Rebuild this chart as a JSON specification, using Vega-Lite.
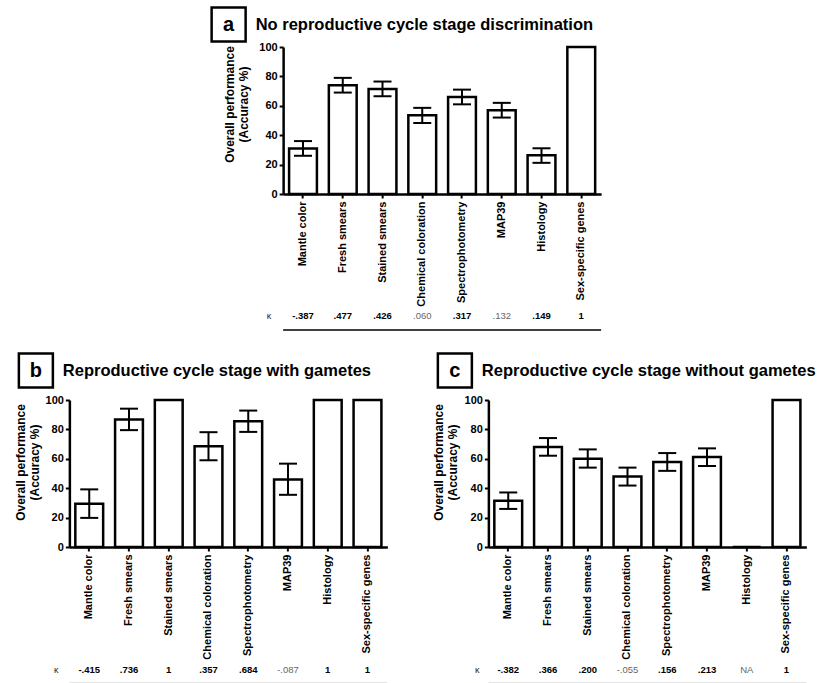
{
  "$schema": "https://vega.github.io/schema/vega-lite/v6.json",
  "padding": {"left": 13, "top": 2, "right": 0, "bottom": 0},
  "background": "white",
  "config": {
    "font": "Liberation Sans",
    "view": {"stroke": null},
    "axis": {"labelFont": "Liberation Sans", "titleFont": "Liberation Sans", "labelColor": "black", "titleColor": "black", "domainColor": "black", "tickColor": "black", "grid": false, "labelOverlap": false, "labelBound": false}
  },
  "datasets": {
    "a": [
      {"method": "Mantle color", "accuracy": 31, "lower": 26, "upper": 36, "kappa": "-.387", "significant": true},
      {"method": "Fresh smears", "accuracy": 74, "lower": 69, "upper": 79, "kappa": ".477", "significant": true},
      {"method": "Stained smears", "accuracy": 71.5, "lower": 66.5, "upper": 76.5, "kappa": ".426", "significant": true},
      {"method": "Chemical coloration", "accuracy": 53.5, "lower": 48.3, "upper": 58.6, "kappa": ".060", "significant": false},
      {"method": "Spectrophotometry", "accuracy": 66, "lower": 61, "upper": 71, "kappa": ".317", "significant": true},
      {"method": "MAP39", "accuracy": 57, "lower": 52, "upper": 62, "kappa": ".132", "significant": false},
      {"method": "Histology", "accuracy": 26.4, "lower": 21.2, "upper": 31.1, "kappa": ".149", "significant": true},
      {"method": "Sex-specific genes", "accuracy": 100, "kappa": "1", "significant": true}
    ],
    "b": [
      {"method": "Mantle color", "accuracy": 29.5, "lower": 19.8, "upper": 39.2, "kappa": "-.415", "significant": true},
      {"method": "Fresh smears", "accuracy": 86.8, "lower": 79.5, "upper": 94.1, "kappa": ".736", "significant": true},
      {"method": "Stained smears", "accuracy": 100, "kappa": "1", "significant": true},
      {"method": "Chemical coloration", "accuracy": 68.6, "lower": 59, "upper": 78.1, "kappa": ".357", "significant": true},
      {"method": "Spectrophotometry", "accuracy": 85.6, "lower": 78.3, "upper": 92.8, "kappa": ".684", "significant": true},
      {"method": "MAP39", "accuracy": 46, "lower": 35.5, "upper": 56.7, "kappa": "-.087", "significant": false},
      {"method": "Histology", "accuracy": 100, "kappa": "1", "significant": true},
      {"method": "Sex-specific genes", "accuracy": 100, "kappa": "1", "significant": true}
    ],
    "c": [
      {"method": "Mantle color", "accuracy": 31.4, "lower": 25.9, "upper": 37.1, "kappa": "-.382", "significant": true},
      {"method": "Fresh smears", "accuracy": 68.1, "lower": 62.1, "upper": 74.1, "kappa": ".366", "significant": true},
      {"method": "Stained smears", "accuracy": 60.1, "lower": 54, "upper": 66.4, "kappa": ".200", "significant": true},
      {"method": "Chemical coloration", "accuracy": 47.9, "lower": 41.8, "upper": 54, "kappa": "-.055", "significant": false},
      {"method": "Spectrophotometry", "accuracy": 57.9, "lower": 51.8, "upper": 63.9, "kappa": ".156", "significant": true},
      {"method": "MAP39", "accuracy": 61.2, "lower": 55.1, "upper": 67.1, "kappa": ".213", "significant": true},
      {"method": "Histology", "accuracy": 0, "kappa": "NA", "significant": false},
      {"method": "Sex-specific genes", "accuracy": 100, "kappa": "1", "significant": true}
    ]
  },
  "center": true,
  "spacing": 17,
  "vconcat": [
    {
      "spacing": -6,
      "vconcat": [
        {
          "data": {"values": [{"letter": "a", "heading": "No reproductive cycle stage discrimination"}]},
          "width": 33, "height": 35,
          "layer": [
            {"mark": {"type": "point", "shape": "square", "size": 1156, "filled": false, "fill": "white", "stroke": "black", "strokeWidth": 2.5, "opacity": 1, "xOffset": -71}, "encoding": {}},
            {"mark": {"type": "text", "fontSize": 20, "fontWeight": "bold", "color": "black", "dx": -71}, "encoding": {"text": {"field": "letter"}}},
            {"mark": {"type": "text", "fontSize": 16.5, "fontWeight": "bold", "color": "black", "align": "left", "dx": -44}, "encoding": {"text": {"field": "heading"}}}
          ]
        },
        {
          "data": {"name": "a"},
          "width": 318, "height": 147,
          "resolve": {"axis": {"y": "independent"}},
          "layer": [
            {"mark": {"type": "bar", "fill": "white", "stroke": "black", "strokeWidth": 2.5}, "encoding": {"x": {"field": "method", "type": "nominal", "sort": ["Mantle color", "Fresh smears", "Stained smears", "Chemical coloration", "Spectrophotometry", "MAP39", "Histology", "Sex-specific genes"], "scale": {"paddingInner": 0.3, "paddingOuter": 0.15}, "axis": {"title": null, "labelAngle": -90, "labelFontSize": 11, "labelFontWeight": "bold", "domainWidth": 2.5, "tickWidth": 2, "tickSize": 4, "labelPadding": 3, "labelLimit": 300}}, "y": {"field": "accuracy", "type": "quantitative", "scale": {"domain": [0, 100]}, "axis": {"values": [0, 20, 40, 60, 80, 100], "labelOverlap": false, "title": ["Overall performance", "(Accuracy %)"], "titleFontSize": 12, "titleFontWeight": "bold", "titleY": 57, "labelFontSize": 11, "labelFontWeight": "bold", "domainWidth": 2.5, "tickWidth": 2, "tickSize": 4, "titlePadding": 8, "labelPadding": 2}}}},
            {"mark": {"type": "rule", "strokeWidth": 2, "color": "black"}, "encoding": {"x": {"field": "method", "type": "nominal", "sort": ["Mantle color", "Fresh smears", "Stained smears", "Chemical coloration", "Spectrophotometry", "MAP39", "Histology", "Sex-specific genes"]}, "y": {"field": "lower", "type": "quantitative", "axis": null}, "y2": {"field": "upper"}}},
            {"mark": {"type": "tick", "thickness": 2, "size": 18, "color": "black", "opacity": 1}, "encoding": {"x": {"field": "method", "type": "nominal", "sort": ["Mantle color", "Fresh smears", "Stained smears", "Chemical coloration", "Spectrophotometry", "MAP39", "Histology", "Sex-specific genes"]}, "y": {"field": "lower", "type": "quantitative", "axis": null}}},
            {"mark": {"type": "tick", "thickness": 2, "size": 18, "color": "black", "opacity": 1}, "encoding": {"x": {"field": "method", "type": "nominal", "sort": ["Mantle color", "Fresh smears", "Stained smears", "Chemical coloration", "Spectrophotometry", "MAP39", "Histology", "Sex-specific genes"]}, "y": {"field": "upper", "type": "quantitative", "axis": null}}},
            {"transform": [{"filter": "datum.significant"}], "mark": {"type": "text", "fontSize": 9.5, "fontWeight": "bold", "color": "black"}, "encoding": {"x": {"field": "method", "type": "nominal", "sort": ["Mantle color", "Fresh smears", "Stained smears", "Chemical coloration", "Spectrophotometry", "MAP39", "Histology", "Sex-specific genes"]}, "y": {"datum": -83, "type": "quantitative", "axis": null}, "text": {"field": "kappa"}}},
            {"transform": [{"filter": "!datum.significant"}], "mark": {"type": "text", "fontSize": 9.5, "fontWeight": "normal", "color": "#666"}, "encoding": {"x": {"field": "method", "type": "nominal", "sort": ["Mantle color", "Fresh smears", "Stained smears", "Chemical coloration", "Spectrophotometry", "MAP39", "Histology", "Sex-specific genes"]}, "y": {"datum": -83, "type": "quantitative", "axis": null}, "text": {"field": "kappa"}}},
            {"transform": [{"filter": "datum.method == 'Mantle color'"}], "mark": {"type": "text", "fontSize": 9, "color": "#222", "dx": -34}, "encoding": {"x": {"field": "method", "type": "nominal", "sort": ["Mantle color", "Fresh smears", "Stained smears", "Chemical coloration", "Spectrophotometry", "MAP39", "Histology", "Sex-specific genes"]}, "y": {"datum": -83, "type": "quantitative", "axis": null}, "text": {"value": "κ"}}},
            {"data": {"values": [{}]}, "mark": {"type": "rule", "strokeWidth": 1.5, "color": "black"}, "encoding": {"y": {"datum": -92.5, "type": "quantitative", "axis": null}}}
          ]
        }
      ]
    },
    {
      "spacing": 43,
      "hconcat": [
        {
          "spacing": 1,
          "vconcat": [
            {
              "data": {"values": [{"letter": "b", "heading": "Reproductive cycle stage with gametes"}]},
              "width": 33, "height": 35,
              "layer": [
                {"mark": {"type": "point", "shape": "square", "size": 1156, "filled": false, "fill": "white", "stroke": "black", "strokeWidth": 2.5, "opacity": 1, "xOffset": -50}, "encoding": {}},
                {"mark": {"type": "text", "fontSize": 20, "fontWeight": "bold", "color": "black", "dx": -50}, "encoding": {"text": {"field": "letter"}}},
                {"mark": {"type": "text", "fontSize": 16.5, "fontWeight": "bold", "color": "black", "align": "left", "dx": -23}, "encoding": {"text": {"field": "heading"}}}
              ]
            },
            {
              "data": {"name": "b"},
              "width": 318, "height": 147,
              "resolve": {"axis": {"y": "independent"}},
              "layer": [
                {"mark": {"type": "bar", "fill": "white", "stroke": "black", "strokeWidth": 2.5}, "encoding": {"x": {"field": "method", "type": "nominal", "sort": ["Mantle color", "Fresh smears", "Stained smears", "Chemical coloration", "Spectrophotometry", "MAP39", "Histology", "Sex-specific genes"], "scale": {"paddingInner": 0.3, "paddingOuter": 0.15}, "axis": {"title": null, "labelAngle": -90, "labelFontSize": 11, "labelFontWeight": "bold", "domainWidth": 2.5, "tickWidth": 2, "tickSize": 4, "labelPadding": 3, "labelLimit": 300}}, "y": {"field": "accuracy", "type": "quantitative", "scale": {"domain": [0, 100]}, "axis": {"values": [0, 20, 40, 60, 80, 100], "labelOverlap": false, "title": ["Overall performance", "(Accuracy %)"], "titleFontSize": 12, "titleFontWeight": "bold", "titleY": 62, "labelFontSize": 11, "labelFontWeight": "bold", "domainWidth": 2.5, "tickWidth": 2, "tickSize": 4, "titlePadding": 4, "labelPadding": 2}}}},
                {"mark": {"type": "rule", "strokeWidth": 2, "color": "black"}, "encoding": {"x": {"field": "method", "type": "nominal", "sort": ["Mantle color", "Fresh smears", "Stained smears", "Chemical coloration", "Spectrophotometry", "MAP39", "Histology", "Sex-specific genes"]}, "y": {"field": "lower", "type": "quantitative", "axis": null}, "y2": {"field": "upper"}}},
                {"mark": {"type": "tick", "thickness": 2, "size": 18, "color": "black", "opacity": 1}, "encoding": {"x": {"field": "method", "type": "nominal", "sort": ["Mantle color", "Fresh smears", "Stained smears", "Chemical coloration", "Spectrophotometry", "MAP39", "Histology", "Sex-specific genes"]}, "y": {"field": "lower", "type": "quantitative", "axis": null}}},
                {"mark": {"type": "tick", "thickness": 2, "size": 18, "color": "black", "opacity": 1}, "encoding": {"x": {"field": "method", "type": "nominal", "sort": ["Mantle color", "Fresh smears", "Stained smears", "Chemical coloration", "Spectrophotometry", "MAP39", "Histology", "Sex-specific genes"]}, "y": {"field": "upper", "type": "quantitative", "axis": null}}},
                {"transform": [{"filter": "datum.significant"}], "mark": {"type": "text", "fontSize": 9.5, "fontWeight": "bold", "color": "black"}, "encoding": {"x": {"field": "method", "type": "nominal", "sort": ["Mantle color", "Fresh smears", "Stained smears", "Chemical coloration", "Spectrophotometry", "MAP39", "Histology", "Sex-specific genes"]}, "y": {"datum": -83.5, "type": "quantitative", "axis": null}, "text": {"field": "kappa"}}},
                {"transform": [{"filter": "!datum.significant"}], "mark": {"type": "text", "fontSize": 9.5, "fontWeight": "normal", "color": "#666"}, "encoding": {"x": {"field": "method", "type": "nominal", "sort": ["Mantle color", "Fresh smears", "Stained smears", "Chemical coloration", "Spectrophotometry", "MAP39", "Histology", "Sex-specific genes"]}, "y": {"datum": -83.5, "type": "quantitative", "axis": null}, "text": {"field": "kappa"}}},
                {"transform": [{"filter": "datum.method == 'Mantle color'"}], "mark": {"type": "text", "fontSize": 9, "color": "#222", "dx": -33}, "encoding": {"x": {"field": "method", "type": "nominal", "sort": ["Mantle color", "Fresh smears", "Stained smears", "Chemical coloration", "Spectrophotometry", "MAP39", "Histology", "Sex-specific genes"]}, "y": {"datum": -83.5, "type": "quantitative", "axis": null}, "text": {"value": "κ"}}},
                {"data": {"values": [{}]}, "mark": {"type": "rule", "strokeWidth": 1, "color": "#cccccc"}, "encoding": {"y": {"datum": -92.5, "type": "quantitative", "axis": null}}}
              ]
            }
          ]
        },
        {
          "spacing": 1,
          "vconcat": [
            {
              "data": {"values": [{"letter": "c", "heading": "Reproductive cycle stage without gametes"}]},
              "width": 33, "height": 35,
              "layer": [
                {"mark": {"type": "point", "shape": "square", "size": 1156, "filled": false, "fill": "white", "stroke": "black", "strokeWidth": 2.5, "opacity": 1, "xOffset": -50}, "encoding": {}},
                {"mark": {"type": "text", "fontSize": 20, "fontWeight": "bold", "color": "black", "dx": -50}, "encoding": {"text": {"field": "letter"}}},
                {"mark": {"type": "text", "fontSize": 16.5, "fontWeight": "bold", "color": "black", "align": "left", "dx": -23}, "encoding": {"text": {"field": "heading"}}}
              ]
            },
            {
              "data": {"name": "c"},
              "width": 318, "height": 147,
              "resolve": {"axis": {"y": "independent"}},
              "layer": [
                {"mark": {"type": "bar", "fill": "white", "stroke": "black", "strokeWidth": 2.5}, "encoding": {"x": {"field": "method", "type": "nominal", "sort": ["Mantle color", "Fresh smears", "Stained smears", "Chemical coloration", "Spectrophotometry", "MAP39", "Histology", "Sex-specific genes"], "scale": {"paddingInner": 0.3, "paddingOuter": 0.15}, "axis": {"title": null, "labelAngle": -90, "labelFontSize": 11, "labelFontWeight": "bold", "domainWidth": 2.5, "tickWidth": 2, "tickSize": 4, "labelPadding": 3, "labelLimit": 300}}, "y": {"field": "accuracy", "type": "quantitative", "scale": {"domain": [0, 100]}, "axis": {"values": [0, 20, 40, 60, 80, 100], "labelOverlap": false, "title": ["Overall performance", "(Accuracy %)"], "titleFontSize": 12, "titleFontWeight": "bold", "titleY": 62, "labelFontSize": 11, "labelFontWeight": "bold", "domainWidth": 2.5, "tickWidth": 2, "tickSize": 4, "titlePadding": 5, "labelPadding": 2}}}},
                {"mark": {"type": "rule", "strokeWidth": 2, "color": "black"}, "encoding": {"x": {"field": "method", "type": "nominal", "sort": ["Mantle color", "Fresh smears", "Stained smears", "Chemical coloration", "Spectrophotometry", "MAP39", "Histology", "Sex-specific genes"]}, "y": {"field": "lower", "type": "quantitative", "axis": null}, "y2": {"field": "upper"}}},
                {"mark": {"type": "tick", "thickness": 2, "size": 18, "color": "black", "opacity": 1}, "encoding": {"x": {"field": "method", "type": "nominal", "sort": ["Mantle color", "Fresh smears", "Stained smears", "Chemical coloration", "Spectrophotometry", "MAP39", "Histology", "Sex-specific genes"]}, "y": {"field": "lower", "type": "quantitative", "axis": null}}},
                {"mark": {"type": "tick", "thickness": 2, "size": 18, "color": "black", "opacity": 1}, "encoding": {"x": {"field": "method", "type": "nominal", "sort": ["Mantle color", "Fresh smears", "Stained smears", "Chemical coloration", "Spectrophotometry", "MAP39", "Histology", "Sex-specific genes"]}, "y": {"field": "upper", "type": "quantitative", "axis": null}}},
                {"transform": [{"filter": "datum.significant"}], "mark": {"type": "text", "fontSize": 9.5, "fontWeight": "bold", "color": "black"}, "encoding": {"x": {"field": "method", "type": "nominal", "sort": ["Mantle color", "Fresh smears", "Stained smears", "Chemical coloration", "Spectrophotometry", "MAP39", "Histology", "Sex-specific genes"]}, "y": {"datum": -83.5, "type": "quantitative", "axis": null}, "text": {"field": "kappa"}}},
                {"transform": [{"filter": "!datum.significant"}], "mark": {"type": "text", "fontSize": 9.5, "fontWeight": "normal", "color": "#666"}, "encoding": {"x": {"field": "method", "type": "nominal", "sort": ["Mantle color", "Fresh smears", "Stained smears", "Chemical coloration", "Spectrophotometry", "MAP39", "Histology", "Sex-specific genes"]}, "y": {"datum": -83.5, "type": "quantitative", "axis": null}, "text": {"field": "kappa"}}},
                {"transform": [{"filter": "datum.method == 'Mantle color'"}], "mark": {"type": "text", "fontSize": 9, "color": "#222", "dx": -31}, "encoding": {"x": {"field": "method", "type": "nominal", "sort": ["Mantle color", "Fresh smears", "Stained smears", "Chemical coloration", "Spectrophotometry", "MAP39", "Histology", "Sex-specific genes"]}, "y": {"datum": -83.5, "type": "quantitative", "axis": null}, "text": {"value": "κ"}}},
                {"data": {"values": [{}]}, "mark": {"type": "rule", "strokeWidth": 1, "color": "#cccccc"}, "encoding": {"y": {"datum": -92.5, "type": "quantitative", "axis": null}}}
              ]
            }
          ]
        }
      ]
    }
  ]
}
